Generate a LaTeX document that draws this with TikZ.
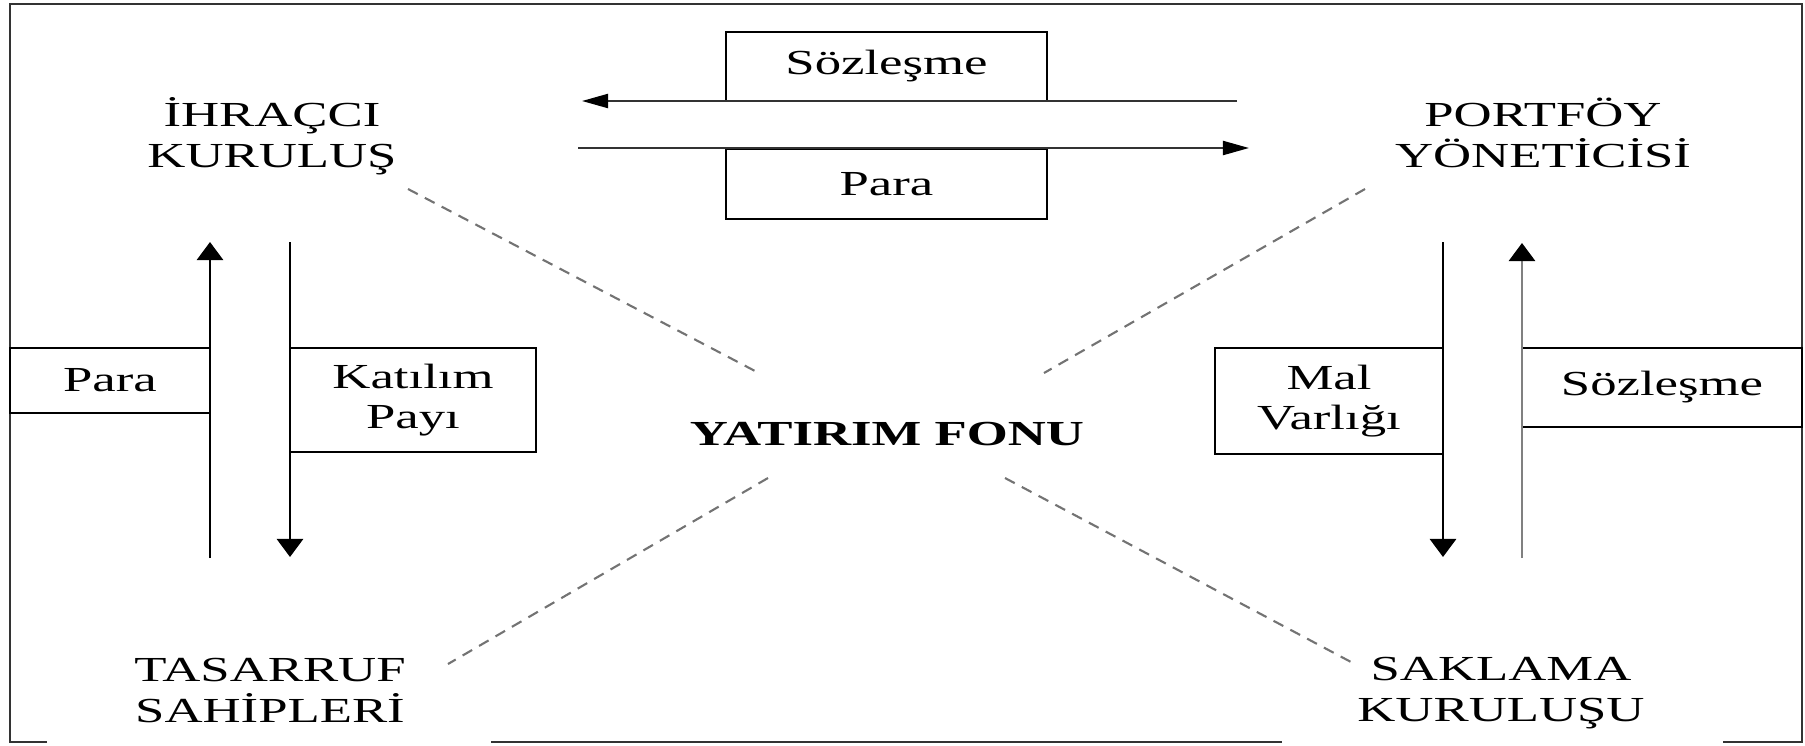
\documentclass[tikz,border=0pt]{standalone}
\usepackage{fontspec}
\setmainfont{Liberation Serif}[FakeStretch=1.5]
\usetikzlibrary{arrows.meta}

\begin{document}
\begin{tikzpicture}[x=0.01cm, y=-0.01cm,
        font=\fontsize{10}{11.4}\selectfont,
        kutu/.style={draw, line width=0.6pt, align=center, inner sep=0pt},
        birim/.style={align=center, inner sep=0pt, anchor=base},
        okyatay/.style={line width=0.6pt, black!80,
        -{Triangle[length=0.26cm, width=0.14cm, color=black]}},
        okdikey/.style={line width=0.8pt, -{Triangle[length=0.18cm, width=0.26cm, color=black]}},
        kesik/.style={black!55, line width=0.6pt, dash pattern=on 0.11cm off 0.08cm},
        cerceve/.style={line width=0.7pt, black!80}
    ]
        \useasboundingbox (0,0) rectangle (1805,745);
        \draw[cerceve] (47,742) -- (10,742) -- (10,4) -- (1802,4) -- (1802,742) -- (1723,742);
        \draw[cerceve] (491,742) -- (1282,742);

        \node[birim] (ihr) at (272,167) {İHRAÇCI\\KURULUŞ};
        \node[birim] (port) at (1543,167) {PORTFÖY\\YÖNETİCİSİ};
        \node[birim] (tas) at (270,722) {TASARRUF\\SAHİPLERİ};
        \node[birim] (sak) at (1501,721) {SAKLAMA\\KURULUŞU};
        \node[birim, font=\fontsize{10}{11.4}\selectfont\bfseries] (fon) at (887,445) {YATIRIM FONU};

        \node[kutu, minimum width=3.21cm, minimum height=0.69cm] (sozust) at (886.5,66.5) {Sözleşme};
        \node[kutu, minimum width=3.21cm, minimum height=0.70cm] (paraust) at (886.5,184) {Para};
        \node[kutu, minimum width=2cm, minimum height=0.65cm] (parasol) at (110,380.5) {Para};
        \node[kutu, minimum width=2.46cm, minimum height=1.04cm] (katilim) at (413,400) {Katılım\\Payı};
        \node[kutu, minimum width=2.28cm, minimum height=1.06cm] (malvar) at (1329,401) {Mal\\Varlığı};
        \node[kutu, minimum width=2.8cm, minimum height=0.79cm] (sozsag) at (1662,387.5) {Sözleşme};

        \coordinate (sozbas) at (1237,101);
        \coordinate (sozuc) at (582,101);
        \coordinate (parabas) at (578,148);
        \coordinate (parauc) at (1249,148);
        \coordinate (solbas) at (210,558);
        \coordinate (soluc) at (210,242);
        \coordinate (paybas) at (290,242);
        \coordinate (payuc) at (290,557);
        \coordinate (malbas) at (1443,242);
        \coordinate (maluc) at (1443,557);
        \coordinate (sagbas) at (1522,558);
        \coordinate (saguc) at (1522,243);
        \draw[okyatay] (sozbas) -- (sozuc);
        \draw[okyatay] (parabas) -- (parauc);
        \draw[okdikey] (solbas) -- (soluc);
        \draw[okdikey] (paybas) -- (payuc);
        \draw[okdikey] (malbas) -- (maluc);
        \draw[okdikey, black!50] (sagbas) -- (saguc);

        \coordinate (ihrk) at (408,189);
        \coordinate (fonk1) at (755,371);
        \coordinate (portk) at (1365,189);
        \coordinate (fonk2) at (1044,373);
        \coordinate (fonk3) at (768,478);
        \coordinate (task) at (448,664);
        \coordinate (fonk4) at (1005,478);
        \coordinate (sakk) at (1351,662);
        \draw[kesik] (ihrk) -- (fonk1);
        \draw[kesik] (portk) -- (fonk2);
        \draw[kesik] (fonk3) -- (task);
        \draw[kesik] (fonk4) -- (sakk);
    \end{tikzpicture}
\end{document}
